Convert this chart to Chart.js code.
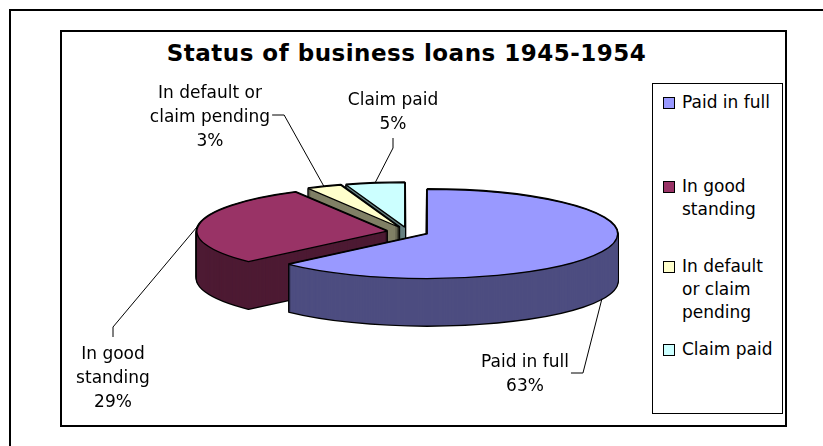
<!DOCTYPE html>
<html>
<head>
<meta charset="utf-8">
<title>Status of business loans 1945-1954</title>
<script src="https://cdn.jsdelivr.net/npm/chart.js@4.4.1/dist/chart.umd.min.js"></script>
<style>
    html, body { margin: 0; padding: 0; background: #fff; }
    body { width: 823px; height: 446px; position: relative; overflow: hidden; font-family: "DejaVu Sans", sans-serif; }
    #outer { position: absolute; left: 9px; top: 9px; width: 900px; height: 500px; border: 2px solid #000; }
    #frame { position: absolute; left: 60px; top: 30px; width: 727px; height: 397px; border: 2px solid #000; box-sizing: border-box; }
    #title { position: absolute; left: 0; top: 39px; width: 813px; text-align: center; font-size: 23px; font-weight: bold; line-height: 28px; letter-spacing: 0.5px; }
    #legend { position: absolute; left: 652px; top: 83px; width: 131px; height: 331px; border: 1px solid #000; box-sizing: border-box; }
    .item { position: absolute; left: 29px; width: 101px; font-size: 17px; line-height: 23px; }
    .swatch { position: absolute; left: -19px; top: 6px; width: 12px; height: 12px; border: 1px solid #000; box-sizing: border-box; }
    #chart { position: absolute; left: 0; top: 0; }
</style>
</head>
<body>
<div id="outer"></div>
<div id="frame"></div>
<div id="title">Status of business loans 1945-1954</div>
<div id="legend"></div>
<canvas id="chart" width="823" height="446"></canvas>

<script>
// data
const categories = ['Paid in full', 'In good standing', 'In default or claim pending', 'Claim paid'];
const loanShares = [63, 29, 3, 5];

// styles
const topColors = ['#9999FF', '#993366', '#FFFFCC', '#CCFFFF'];
const sideColors = ['#4D4D80', '#4D1A33', '#808066', '#668080'];

// 3d look
const TILT = 0.234;    // vertical squash of the pie
const DEPTH = 47;      // wall height in px
const EXPLODE = 21;    // how far each slice is pulled out
const LINE = 24;       // label line height

// where the data labels sit (centre x, first baseline) and how the leader leaves them
const labelSpots = [
    { x: 525, y: 367, leader: 'right', line: 0, dy: 6 },
    { x: 113, y: 359, leader: 'top' },
    { x: 210, y: 98, leader: 'right', line: 1, dy: -7 },
    { x: 393, y: 105, leader: 'bottom' }
];
const legendTops = [6.6, 90.6, 170.6, 253.6];

document.addEventListener('DOMContentLoaded', function () {
    // Legend built from the same arrays
    const legend = document.getElementById('legend');
    categories.forEach((name, i) => {
        const item = document.createElement('div');
        item.className = 'item';
        item.style.top = legendTops[i] + 'px';
        item.innerHTML = `<span class="swatch" style="background:${topColors[i]}"></span>${name}`;
        legend.appendChild(item);
    });

    // draw a copy of an arc element with other colours, shifted by dx/dy
    function paint(ctx, arc, dx, dy, fill, line, width) {
        const el = Object.create(arc);
        el.options = Object.assign({}, arc.options, {
            backgroundColor: fill, borderColor: line, borderWidth: width, offset: 0
        });
        ctx.save();
        ctx.translate(dx, dy);
        arc.draw.call(el, ctx);
        ctx.restore();
    }

    // Extruded, exploded pie drawn from the arcs chart.js laid out
    const pie3d = {
        id: 'pie3d',
        beforeDatasetsDraw(chart) {
            const ctx = chart.ctx;
            const arcs = chart.getDatasetMeta(0).data;
            const cy = arcs[0].y;
            const dpr = chart.currentDevicePixelRatio;
            const half = a => (a.startAngle + a.endAngle) / 2;

            // keep stroke widths even after the squash
            const origStroke = ctx.stroke;
            ctx.stroke = function () {
                ctx.save();
                ctx.setTransform(dpr, 0, 0, dpr, 0, 0);
                origStroke.apply(ctx, arguments);
                ctx.restore();
            };

            ctx.save();
            ctx.translate(0, cy);
            ctx.scale(1, TILT);
            ctx.translate(0, -cy);

            // back slices first
            const order = arcs.map((a, i) => i).sort((i, j) => Math.sin(half(arcs[i])) - Math.sin(half(arcs[j])));
            order.forEach(i => {
                const arc = arcs[i];
                const dx = Math.cos(half(arc)) * EXPLODE;
                const dy = Math.sin(half(arc)) * EXPLODE;
                for (let d = DEPTH; d >= 0; d--) {
                    paint(ctx, arc, dx, dy + d / TILT, '#000', '#000', 2.6);
                }
                for (let d = DEPTH; d >= 1; d--) {
                    paint(ctx, arc, dx, dy + d / TILT, sideColors[i], sideColors[i], 0);
                }
                paint(ctx, arc, dx, dy, topColors[i], '#000', 1.3);
            });

            ctx.restore();
            delete ctx.stroke;
            return false;
        }
    };

    function wrap(ctx, text, maxW) {
        const words = text.split(' ');
        const lines = [];
        let cur = '';
        words.forEach(w => {
            const test = cur ? cur + ' ' + w : w;
            if (cur && ctx.measureText(test).width > maxW) {
                lines.push(cur);
                cur = w;
            } else {
                cur = test;
            }
        });
        lines.push(cur);
        return lines;
    }

    // Data labels with leader lines
    const pieLabels = {
        id: 'pieLabels',
        afterDraw(chart) {
            const ctx = chart.ctx;
            const arcs = chart.getDatasetMeta(0).data;
            const total = loanShares.reduce((a, b) => a + b, 0);
            ctx.save();
            ctx.font = '17px "DejaVu Sans"';
            ctx.fillStyle = '#000';
            ctx.textAlign = 'center';
            ctx.textBaseline = 'alphabetic';
            ctx.strokeStyle = '#000';
            ctx.lineWidth = 1;
            arcs.forEach((arc, i) => {
                const spot = labelSpots[i];
                const lines = wrap(ctx, categories[i], 125);
                lines.push(Math.round(loanShares[i] / total * 100) + '%');
                lines.forEach((t, n) => ctx.fillText(t, spot.x, spot.y + n * LINE));

                const mid = (arc.startAngle + arc.endAngle) / 2;
                const r = EXPLODE + arc.outerRadius;
                const ax = arc.x + Math.cos(mid) * r;
                let ay = arc.y + Math.sin(mid) * r * TILT;
                if (Math.sin(mid) > 0) ay += DEPTH;

                let p0, p1;
                if (spot.leader === 'right') {
                    const w = ctx.measureText(lines[spot.line]).width;
                    const y = spot.y + spot.line * LINE + spot.dy;
                    p0 = [spot.x + w / 2 + 2, y];
                    p1 = [p0[0] + 12, y];
                } else if (spot.leader === 'top') {
                    p0 = [spot.x, spot.y - 22];
                    p1 = [spot.x, spot.y - 32];
                } else {
                    const yb = spot.y + (lines.length - 1) * LINE;
                    p0 = [spot.x, yb + 9];
                    p1 = [spot.x, yb + 19];
                }
                ctx.beginPath();
                ctx.moveTo(p0[0], p0[1]);
                ctx.lineTo(p1[0], p1[1]);
                ctx.lineTo(ax, ay);
                ctx.stroke();
            });
            ctx.restore();
        }
    };

    new Chart(document.getElementById('chart'), {
        type: 'pie',
        data: {
            labels: categories,
            datasets: [{
                data: loanShares,
                backgroundColor: topColors,
                borderColor: '#000',
                borderWidth: 1.3
            }]
        },
        options: {
            responsive: false,
            animation: false,
            layout: {
                padding: { left: 217, right: 224, top: 41, bottom: 23 }
            },
            plugins: {
                legend: { display: false },
                tooltip: { enabled: false }
            }
        },
        plugins: [pie3d, pieLabels]
    });
});
</script>
</body>
</html>
